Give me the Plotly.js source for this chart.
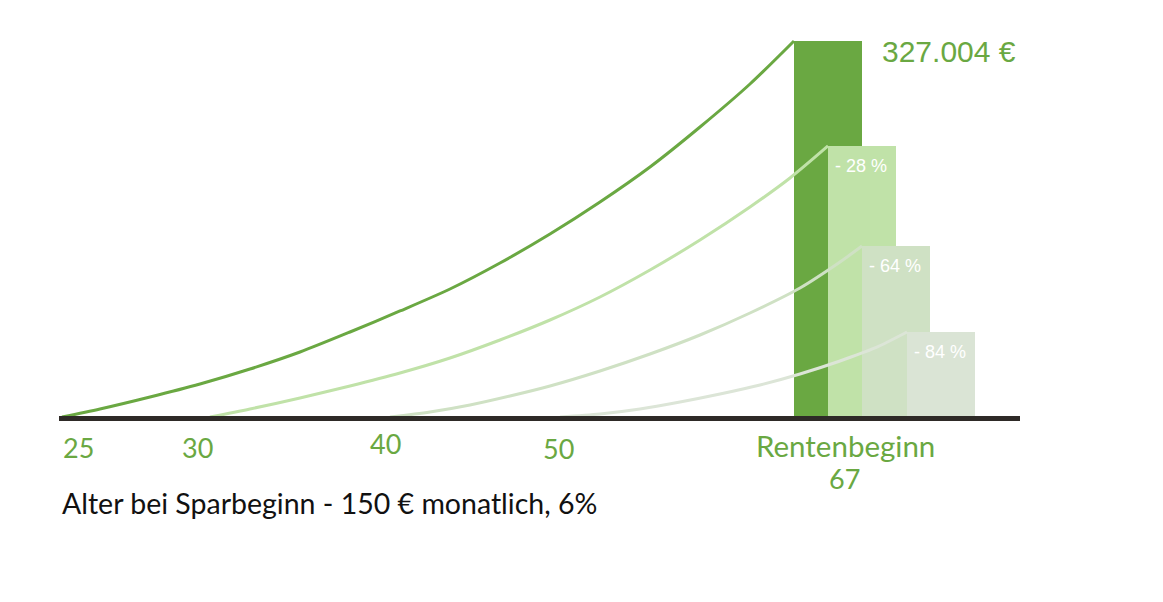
<!DOCTYPE html>
<html>
<head>
<meta charset="utf-8">
<script src="https://cdn.plot.ly/plotly-3.0.1.min.js"></script>
<style>
  html, body { margin: 0; padding: 0; background: #ffffff; }
  #chart { width: 1163px; height: 602px; }
</style>
</head>
<body>
<div id="chart"></div>
<script>
// ---- data ----
const curve1X = [62, 100, 150, 200, 250, 300, 350, 400, 450, 500, 550, 600, 650, 700, 750, 794];
const curve1Y = [0, 6960, 17390, 28700, 41750, 56530, 73920, 92190, 111320, 133930, 159150, 186980, 217420, 252210, 289610, 327004];

const curve2X = [210, 250, 300, 350, 400, 450, 500, 550, 600, 650, 700, 750, 790, 828];
const curve2Y = [0, 6960, 16520, 26960, 38270, 51310, 66970, 84360, 104360, 127840, 153940, 182640, 207860, 235700];

const curve3X = [390, 430, 470, 510, 550, 600, 650, 700, 750, 800, 840, 862];
const curve3Y = [0, 4350, 10440, 18260, 26960, 40010, 54790, 71320, 90450, 112190, 134800, 148700];

const curve4X = [560, 600, 640, 680, 720, 760, 800, 840, 875, 907];
const curve4Y = [0, 2610, 6960, 13050, 20000, 27830, 37400, 48700, 60010, 73900];

const barX = [828, 862, 896, 941];
const barValues = [327004, 235700, 148700, 73900];
const barLabels = ['', '- 28 %', '- 64 %', '- 84 %'];
const topLabel = '327.004 €';

const tickLabels = ['25', '30', '40', '50', 'Rentenbeginn', '67'];
const caption = 'Alter bei Sparbeginn - 150 € monatlich, 6%';

// ---- styling ----
const W = 1163, H = 602;
const barColors = ['#6aa842', '#c0e2a8', '#cfe1c4', '#dae4d5'];
const lineColors = ['#6aa842', '#c0e2a8', '#cfe1c4', '#dce5d7'];
const green = '#6aa842';
const barWidth = 68;
const tickPos = [[78, 447], [197, 447], [385, 443], [558, 448], [845, 445], [844, 478]];
const tickSize = [27, 27, 27, 27, 29.5, 27];
const px2paperY = py => 1 - py / H;

const curves = [[curve1X, curve1Y], [curve2X, curve2Y], [curve3X, curve3Y], [curve4X, curve4Y]];

const data = [{
  type: 'bar',
  x: barX,
  y: barValues,
  width: barWidth,
  marker: { color: barColors, line: { width: 0 } },
  hoverinfo: 'skip'
}];
curves.forEach((c, i) => {
  data.push({
    type: 'scatter',
    mode: 'lines',
    x: c[0],
    y: c[1],
    line: { color: lineColors[i], width: 3, shape: 'spline', smoothing: 0.8 },
    hoverinfo: 'skip'
  });
});

const annotations = [];
annotations.push({
  xref: 'x', yref: 'y',
  x: barX[0] + barWidth / 2, y: barValues[0],
  xanchor: 'left', yanchor: 'middle',
  xshift: 18, yshift: -10,
  text: topLabel, showarrow: false,
  font: { family: 'Liberation Sans, Arial, sans-serif', size: 30, color: green }
});
barLabels.forEach((t, i) => {
  if (!t) return;
  annotations.push({
    xref: 'x', yref: 'y',
    x: barX[i] - barWidth / 2, y: barValues[i],
    xanchor: 'left', yanchor: 'middle',
    xshift: 5, yshift: -20,
    text: t, showarrow: false,
    font: { family: 'Liberation Sans, Arial, sans-serif', size: 18, color: '#ffffff' }
  });
});
tickLabels.forEach((t, i) => {
  annotations.push({
    xref: 'x', yref: 'paper',
    x: tickPos[i][0], y: px2paperY(tickPos[i][1]),
    xanchor: 'center', yanchor: 'middle',
    text: t, showarrow: false,
    font: { family: 'Lato, sans-serif', size: tickSize[i], color: green }
  });
});
annotations.push({
  xref: 'x', yref: 'paper',
  x: 60, y: px2paperY(503),
  xanchor: 'left', yanchor: 'middle',
  text: caption, showarrow: false,
  font: { family: 'Lato, sans-serif', size: 28.5, color: '#111111' }
});

const yTop = 362660, yBottom = -160900;
const euroPerPx = (yTop - yBottom) / H;

const layout = {
  width: W, height: H,
  margin: { l: 0, r: 0, t: 0, b: 0, pad: 0 },
  paper_bgcolor: '#ffffff',
  plot_bgcolor: '#ffffff',
  showlegend: false,
  hovermode: false,
  xaxis: { range: [0, W], visible: false, fixedrange: true },
  yaxis: { range: [yBottom, yTop], visible: false, fixedrange: true },
  shapes: [{
    type: 'line', layer: 'above',
    xref: 'x', yref: 'y',
    x0: 59, x1: 1020,
    y0: -1.6 * euroPerPx, y1: -1.6 * euroPerPx,
    line: { color: '#2e2a27', width: 5 }
  }],
  annotations: annotations
};

Plotly.newPlot('chart', data, layout, { staticPlot: true, displayModeBar: false });
</script>
</body>
</html>
